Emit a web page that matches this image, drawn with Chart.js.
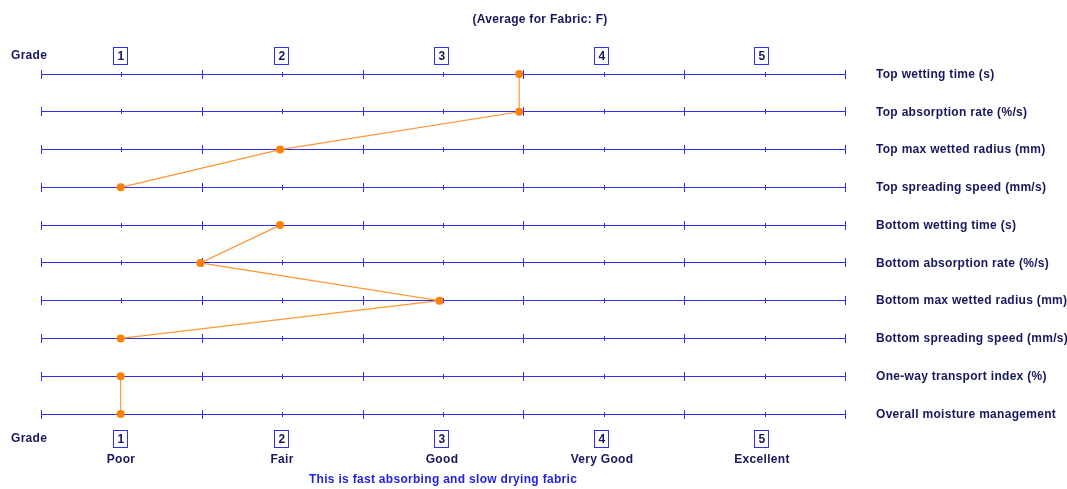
<!DOCTYPE html>
<html>
<head>
<meta charset="utf-8">
<script src="https://cdn.jsdelivr.net/npm/chart.js@4/dist/chart.umd.min.js"></script>
<style>
  html, body { margin: 0; padding: 0; background: #ffffff; }
  #wrap { width: 1067px; height: 489px; }
</style>
</head>
<body>
<div id="wrap"><canvas id="mmt" width="1067" height="489"></canvas></div>
<script>
// Moisture management indexes, top to bottom
const categories = [
  'Top wetting time (s)',
  'Top absorption rate (%/s)',
  'Top max wetted radius (mm)',
  'Top spreading speed (mm/s)',
  'Bottom wetting time (s)',
  'Bottom absorption rate (%/s)',
  'Bottom max wetted radius (mm)',
  'Bottom spreading speed (mm/s)',
  'One-way transport index (%)',
  'Overall moisture management'
];
// Average grade for fabric F on each index
const grades = [3.5, 3.5, 2, 1, 2, 1.5, 3, 1, 1, 1];
// Index groups joined by a line: top surface, bottom surface, overall
const groups = [[0, 3], [4, 7], [8, 9]];
// Grade scale
const gradeTicks = [1, 2, 3, 4, 5];
const gradeNames = ['Poor', 'Fair', 'Good', 'Very Good', 'Excellent'];
const titleText = '(Average for Fabric: F)';
const verdictText = 'This is fast absorbing and slow drying fabric';

const NAVY = '#17175f';
const BLUE = '#2e2ef2';
const FONT = 'bold 12px "Liberation Sans", Arial, sans-serif';

const gradeRulers = {
  id: 'gradeRulers',
  beforeDatasetsDraw(chart) {
    const ctx = chart.ctx;
    const xs = chart.scales.ruler, ys = chart.scales.y;
    const x0 = xs.getPixelForValue(0.5), x1 = xs.getPixelForValue(5.5);
    ctx.save();
    ctx.lineWidth = 1;
    ctx.strokeStyle = BLUE;
    categories.forEach((name, i) => {
      const y = Math.floor(ys.getPixelForValue(i)) + 0.5;
      ctx.beginPath();
      ctx.moveTo(x0, y); ctx.lineTo(x1 + 1, y);
      for (let g = 0.5; g <= 5.5; g += 0.5) {
        const x = Math.round(xs.getPixelForValue(g)) + 0.5;
        const h = (g % 1 === 0) ? 2.5 : 4.5;
        ctx.moveTo(x, y - h); ctx.lineTo(x, y + h);
      }
      ctx.stroke();
    });
    ctx.restore();
  },
  afterDraw(chart) {
    const ctx = chart.ctx;
    const xs = chart.scales.ruler, ys = chart.scales.y;
    ctx.save();
    ctx.font = FONT;
    if ('letterSpacing' in ctx) ctx.letterSpacing = '0.3px';
    ctx.textBaseline = 'middle';
    ctx.fillStyle = NAVY;

    // index names on the right
    ctx.textAlign = 'left';
    categories.forEach((name, i) => {
      ctx.fillText(name, 876, ys.getPixelForValue(i) + 0.5);
    });

    // grade headers, top and bottom
    const topY = 56, botY = 439;
    ctx.fillText('Grade', 11, topY);
    ctx.fillText('Grade', 11, botY);
    ctx.textAlign = 'center';
    gradeTicks.forEach((g, k) => {
      const cx = Math.round(xs.getPixelForValue(g) - (g - 1) * 0.6) - 0.5;
      [topY, botY].forEach(cy => {
        ctx.strokeStyle = BLUE;
        ctx.lineWidth = 1;
        ctx.strokeRect(cx - 7, Math.round(cy) - 8.5, 14, 17);
        ctx.fillStyle = NAVY;
        ctx.fillText(String(g), cx + 0.5, cy + 0.5);
      });
      ctx.fillText(gradeNames[k], cx + 0.5, 460);
    });

    // heading and verdict
    ctx.fillText(titleText, 540, 20);
    ctx.fillStyle = '#1f1fe6';
    const mid = (xs.getPixelForValue(0.5) + xs.getPixelForValue(5.5)) / 2;
    ctx.fillText(verdictText, mid, 480);
    ctx.restore();
  }
};

const datasets = groups.map(([a, b]) => ({
  data: grades.slice(a, b + 1).map((g, k) => ({ x: g, y: a + k })),
  xAxisID: 'x',
  borderColor: '#ff9633',
  backgroundColor: '#ff8000',
  borderWidth: 1.2,
  pointRadius: 4,
  pointHoverRadius: 4,
  pointBorderWidth: 0,
  tension: 0,
  clip: false
}));

new Chart(document.getElementById('mmt'), {
  type: 'line',
  data: { datasets },
  options: {
    responsive: false,
    devicePixelRatio: 1,
    animation: false,
    events: [],
    layout: { padding: { left: 41, right: 222, top: 74, bottom: 75 } },
    plugins: { legend: { display: false }, tooltip: { enabled: false }, title: { display: false } },
    scales: {
      // grades as plotted
      x: { type: 'linear', min: 0.5, max: 5.544, display: false },
      // grade rulers behind the marks
      ruler: { type: 'linear', axis: 'x', min: 0.5, max: 5.5, display: false },
      y: { type: 'linear', min: 0, max: categories.length - 1, reverse: true, display: false }
    }
  },
  plugins: [gradeRulers]
});
</script>
</body>
</html>
